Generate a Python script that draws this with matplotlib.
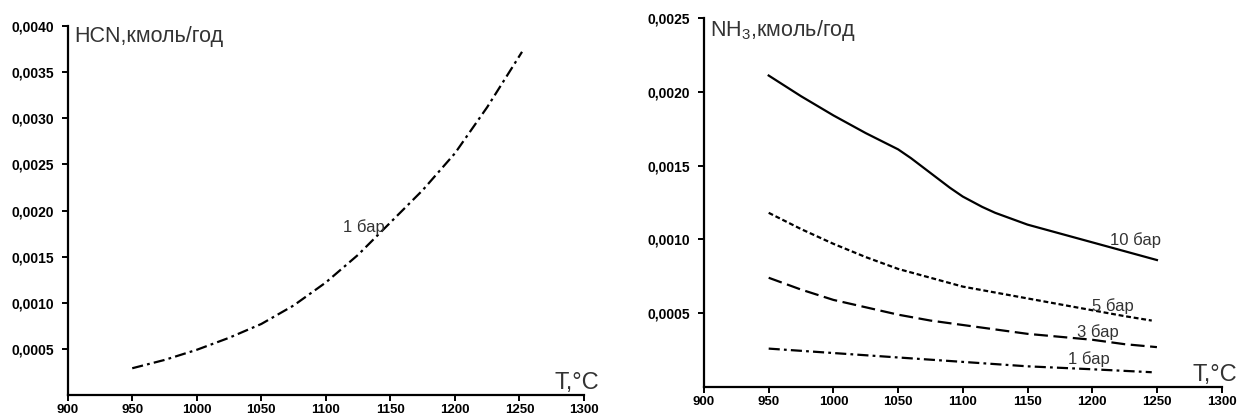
import numpy as np
import matplotlib
matplotlib.use("Agg")
import matplotlib.pyplot as plt
from matplotlib.ticker import FuncFormatter

plt.rcParams['font.family'] = ['Liberation Sans', 'DejaVu Sans']
plt.rcParams['mathtext.default'] = 'regular'
plt.rcParams['lines.scale_dashes'] = False

#### data
# left panel: HCN, 1 bar
hcn_t = [950, 975, 1000, 1025, 1050, 1075, 1100, 1125, 1150, 1175, 1200, 1225, 1252]
hcn_1bar = [0.00029, 0.00038, 0.00049, 0.00062, 0.00077, 0.00097, 0.00122,
            0.00152, 0.00187, 0.00222, 0.00262, 0.00312, 0.00372]

# right panel: NH3 at 1, 3, 5, 10 bar
nh3_10bar_t = [950, 975, 1000, 1025, 1050, 1060, 1075, 1090, 1100, 1115, 1125,
               1150, 1175, 1200, 1225, 1250]
nh3_10bar = [0.00211, 0.00197, 0.00184, 0.00172, 0.00161, 0.00155, 0.00145, 0.00135,
             0.00129, 0.00122, 0.00118, 0.00110, 0.00104, 0.00098, 0.00092, 0.00086]
nh3_5bar_t = [950, 975, 1000, 1025, 1050, 1075, 1100, 1125, 1150, 1175, 1200, 1225, 1246]
nh3_5bar = [0.00118, 0.00107, 0.00097, 0.00088, 0.00080, 0.00074, 0.00068,
            0.00064, 0.00060, 0.00056, 0.00052, 0.00048, 0.00045]
nh3_3bar_t = [950, 975, 1000, 1025, 1050, 1075, 1100, 1125, 1150, 1175, 1200, 1225, 1250]
nh3_3bar = [0.00074, 0.00066, 0.00059, 0.00054, 0.00049, 0.00045, 0.00042,
            0.00039, 0.00036, 0.00034, 0.00032, 0.00029, 0.00027]
nh3_1bar_t = [950, 1000, 1050, 1100, 1150, 1200, 1246]
nh3_1bar = [0.00026, 0.00023, 0.00020, 0.00017, 0.00014, 0.00012, 0.00010]

x_ticks = [900, 950, 1000, 1050, 1100, 1150, 1200, 1250, 1300]
hcn_yticks = [0.0005, 0.0010, 0.0015, 0.0020, 0.0025, 0.0030, 0.0035, 0.0040]
nh3_yticks = [0.0005, 0.0010, 0.0015, 0.0020, 0.0025]

TEXT = '#333333'
DASHDOT = (0, (8, 3, 2, 3))


def style_axes(ax, yticks, ymax):
    # only left/bottom axis lines, ticks outside, comma decimals
    ax.spines['top'].set_visible(False)
    ax.spines['right'].set_visible(False)
    for s in ('left', 'bottom'):
        ax.spines[s].set_linewidth(1.6)
    ax.set_xlim(900, 1300)
    ax.set_ylim(0, ymax)
    ax.set_xticks(x_ticks)
    ax.set_yticks(yticks)
    ax.yaxis.set_major_formatter(FuncFormatter(lambda v, p: "{:.4f}".format(v).replace('.', ',')))
    ax.tick_params(direction='out', length=4, width=1.4, labelsize=10, pad=6)
    ax.tick_params(axis='x', pad=2.5, labelsize=9.5)
    for lab in ax.get_xticklabels() + ax.get_yticklabels():
        lab.set_fontweight('bold')
    ax.text(1.03, 0.015, "T,°C", transform=ax.transAxes, ha='right', va='baseline',
            fontsize=17, color=TEXT)


fig = plt.figure(figsize=(12.42, 4.18), dpi=100)

# HCN
ax1 = fig.add_axes([0.0545, 0.0550, 0.4157, 0.8828])
ax1.plot(hcn_t, hcn_1bar, color='black', lw=1.6, linestyle=DASHDOT)
ax1.text(1113, 0.00177, "1 бар", fontsize=12, color=TEXT, ha='left', va='baseline')
ax1.text(0.012, 1.0, "HCN,кмоль/год", transform=ax1.transAxes, ha='left', va='top',
         fontsize=15.5, color=TEXT)
style_axes(ax1, hcn_yticks, 0.0040)

# NH3
ax2 = fig.add_axes([0.5668, 0.0742, 0.4168, 0.8828])
ax2.plot(nh3_10bar_t, nh3_10bar, color='black', lw=1.6, linestyle='-')
ax2.plot(nh3_5bar_t, nh3_5bar, color='black', lw=1.6, linestyle=(0, (3.5, 2)))
ax2.plot(nh3_3bar_t, nh3_3bar, color='black', lw=1.6, linestyle=(0, (10, 4)))
ax2.plot(nh3_1bar_t, nh3_1bar, color='black', lw=1.6, linestyle=DASHDOT)
ax2.text(1214, 0.00096, "10 бар", fontsize=12, color=TEXT, va='baseline')
ax2.text(1200, 0.000515, "5 бар", fontsize=12, color=TEXT, va='baseline')
ax2.text(1188, 0.00034, "3 бар", fontsize=12, color=TEXT, va='baseline')
ax2.text(1181, 0.000156, "1 бар", fontsize=12, color=TEXT, va='baseline')
ax2.text(0.012, 1.0, "NH$_3$,кмоль/год", transform=ax2.transAxes, ha='left', va='top',
         fontsize=15.5, color=TEXT)
style_axes(ax2, nh3_yticks, 0.0025)

fig.savefig("out.png", dpi=100)
